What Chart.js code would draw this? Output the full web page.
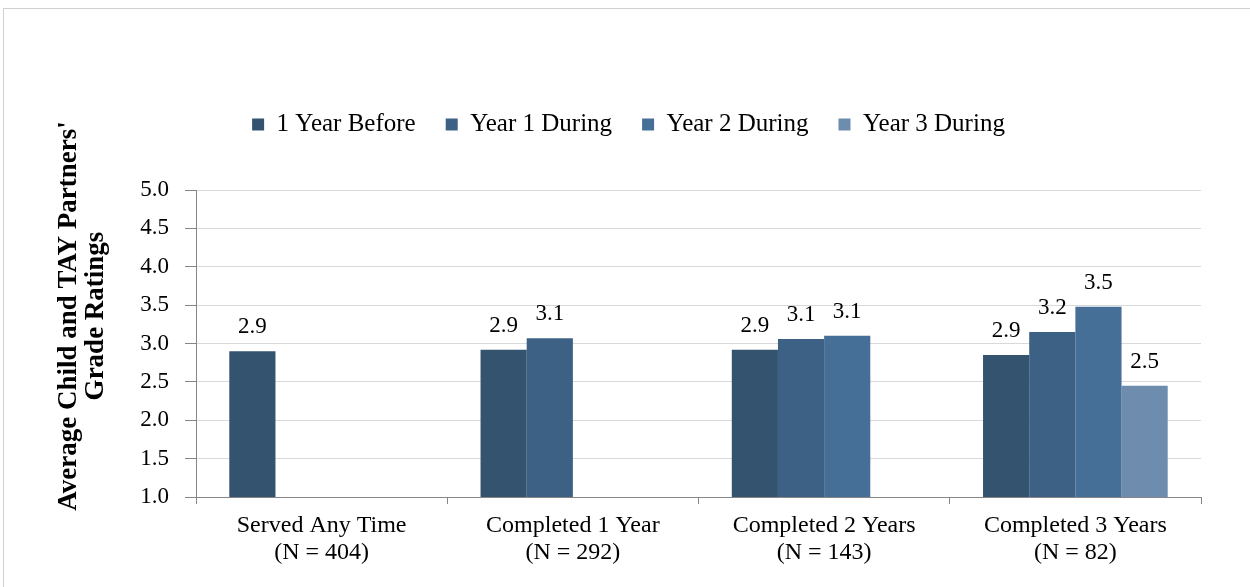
<!DOCTYPE html>
<html>
<head>
<meta charset="utf-8">
<script src="https://cdn.jsdelivr.net/npm/chart.js@4.4.1/dist/chart.umd.min.js"></script>
<style>
html,body{margin:0;padding:0;background:#fff;}
#wrap{position:absolute;left:0;top:0;width:1250px;height:587px;}
#frame{position:absolute;left:3px;top:8px;width:1260px;height:600px;border:1px solid #d0d0d0;box-sizing:border-box;}
canvas{position:absolute;left:0;top:0;}
</style>
</head>
<body>
<div id="wrap"><div id="frame"></div><canvas id="c" width="1250" height="587"></canvas></div>
<script>
const categories = [["Served Any Time","(N = 404)"],["Completed 1 Year","(N = 292)"],["Completed 2 Years","(N = 143)"],["Completed 3 Years","(N = 82)"]];
const seriesNames = ["1 Year Before","Year 1 During","Year 2 During","Year 3 During"];
const yearBefore = [2.90, 2.92, 2.92, 2.85];
const year1During = [null, 3.07, 3.06, 3.15];
const year2During = [null, null, 3.10, 3.48];
const year3During = [null, null, null, 2.45];
const labelsBefore = ["2.9","2.9","2.9","2.9"];
const labels1 = [null,"3.1","3.1","3.2"];
const labels2 = [null,null,"3.1","3.5"];
const labels3 = [null,null,null,"2.5"];
const yTicks = [1.0,1.5,2.0,2.5,3.0,3.5,4.0,4.5,5.0];
const yTitle = ["Average Child and TAY Partners'","Grade Ratings"];
const colors = ["#34536f","#3d6184","#466f97","#6d8cae"];

const serif = "'Liberation Serif','Times New Roman',serif";
const PAD_TOP = 82, PLOT_TOP = 190;

const legendSpace = {
  id:'legendSpace',
  afterInit(chart){
    const lg = chart.legend;
    if (!lg || lg._patched) return;
    const orig = lg.fit;
    lg.fit = function(){ orig.call(this); this.height = PLOT_TOP - PAD_TOP; };
    lg._patched = true;
  }
};

const valueLabels = {
  id:'valueLabels',
  afterDatasetsDraw(chart){
    const ctx = chart.ctx;
    const lbls = [labelsBefore, labels1, labels2, labels3];
    ctx.save();
    ctx.font = "23px " + serif;
    ctx.fillStyle = "#000";
    ctx.textAlign = "center";
    ctx.textBaseline = "middle";
    chart.data.datasets.forEach((ds, di) => {
      const meta = chart.getDatasetMeta(di);
      meta.data.forEach((bar, i) => {
        const t = lbls[di][i];
        if (t == null || ds.data[i] == null) return;
        ctx.fillText(t, bar.x, bar.y - 24);
      });
    });
    ctx.restore();
  }
};

const yAxisTitle = {
  id:'yAxisTitle',
  afterDraw(chart){
    const ctx = chart.ctx;
    ctx.save();
    ctx.font = "bold 27px " + serif;
    ctx.fillStyle = "#000";
    ctx.textAlign = "center";
    ctx.textBaseline = "middle";
    const xs = [69, 96];
    yTitle.forEach((t, i) => {
      ctx.save();
      ctx.translate(xs[i], 316);
      ctx.rotate(-Math.PI/2);
      ctx.fillText(t, 0, 0);
      ctx.restore();
    });
    ctx.restore();
  }
};

new Chart(document.getElementById('c'), {
  type: 'bar',
  data: {
    labels: categories,
    datasets: [
      {label: seriesNames[0], data: yearBefore, backgroundColor: colors[0]},
      {label: seriesNames[1], data: year1During, backgroundColor: colors[1]},
      {label: seriesNames[2], data: year2During, backgroundColor: colors[2]},
      {label: seriesNames[3], data: year3During, backgroundColor: colors[3]}
    ]
  },
  options: {
    responsive: false,
    animation: false,
    devicePixelRatio: 1,
    layout: {padding: {top: PAD_TOP, right: 49, left: 56, bottom: 10}},
    datasets: {bar: {barPercentage: 1.0, categoryPercentage: 0.735, borderWidth: 0}},
    plugins: {
      legend: {
        position: 'top',
        labels: {
          font: {family: serif, size: 25},
          color: '#000',
          boxWidth: 12,
          boxHeight: 12,
          padding: 30
        }
      },
      tooltip: {enabled: false}
    },
    scales: {
      x: {
        grid: {display: true, drawOnChartArea: false, drawTicks: true, tickLength: 7, color: '#868686', offset: true},
        border: {color: '#868686', width: 1},
        ticks: {font: {family: serif, size: 24, lineHeight: 1.1}, color: '#000', padding: 9, maxRotation: 0},
        afterFit(s){ s.height = 80; }
      },
      y: {
        min: 1, max: 5,
        afterBuildTicks(s){ s.ticks = yTicks.map(v => ({value: v})); },
        grid: {color: '#d9d9d9', tickLength: 11, tickColor: '#868686'},
        border: {color: '#868686', width: 1},
        ticks: {font: {family: serif, size: 23}, color: '#000', padding: 16, callback: v => Number(v).toFixed(1)},
        afterFit(s){ s.width = 140; }
      }
    }
  },
  plugins: [legendSpace, valueLabels, yAxisTitle]
});
</script>
</body>
</html>
